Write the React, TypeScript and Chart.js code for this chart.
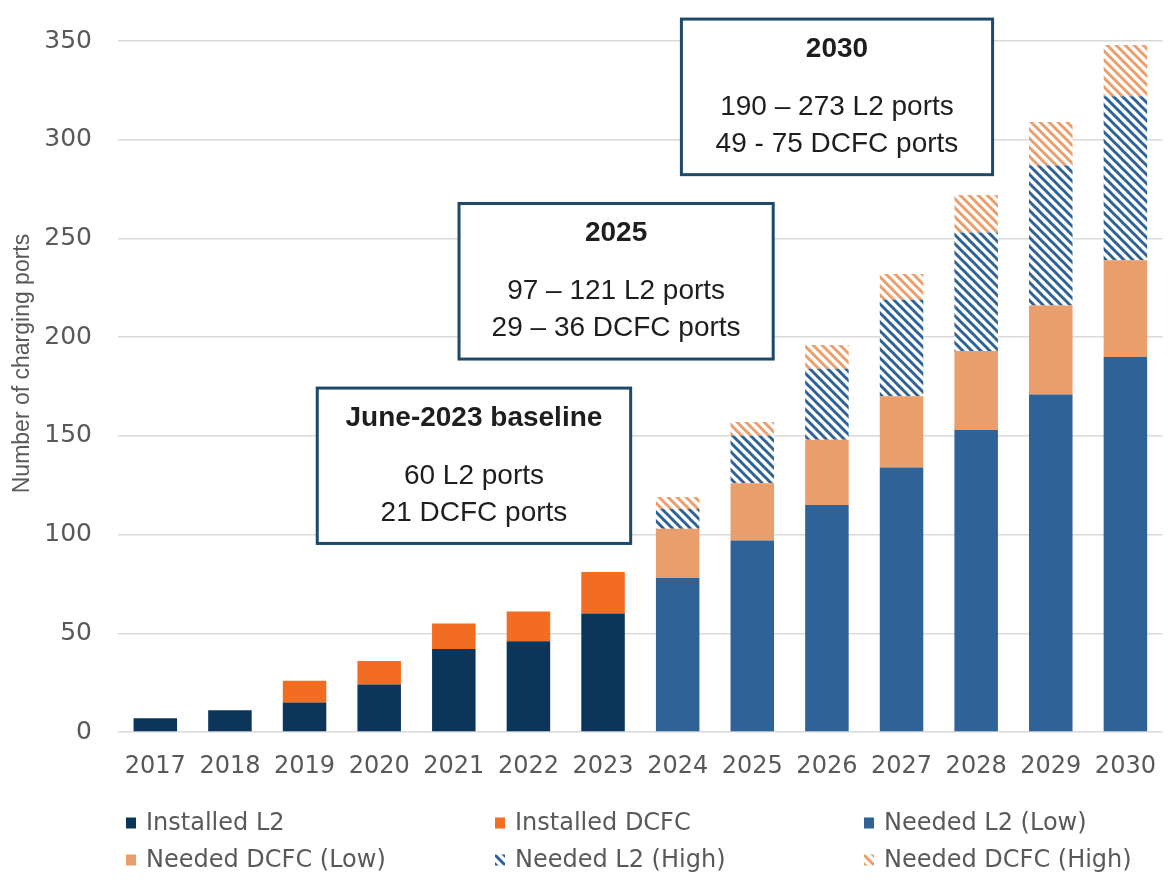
import React, { useEffect, useRef } from 'react';
import { Chart, registerables } from 'chart.js';

Chart.register(...registerables);

// ---------- data ----------
const years = ['2017', '2018', '2019', '2020', '2021', '2022', '2023', '2024', '2025', '2026', '2027', '2028', '2029', '2030'];
const installedL2 = [7, 11, 15, 24, 42, 46, 60, null, null, null, null, null, null, null];
const installedDCFC = [0, 0, 11, 12, 13, 15, 21, null, null, null, null, null, null, null];
const neededL2Low = [null, null, null, null, null, null, null, 78, 97, 115, 134, 153, 171, 190];
const neededDCFCLow = [null, null, null, null, null, null, null, 25, 29, 33, 36, 40, 45, 49];
const neededL2HighExtra = [null, null, null, null, null, null, null, 10, 24, 36, 49, 60, 71, 83];
const neededDCFCHighExtra = [null, null, null, null, null, null, null, 6, 7, 12, 13, 19, 22, 26];
const seriesLabels = ['Installed L2', 'Installed DCFC', 'Needed L2 (Low)', 'Needed DCFC (Low)', 'Needed L2 (High)', 'Needed DCFC (High)'];
const yAxisTitle = 'Number of charging ports';
const yMin = 0;
const yMax = 350;
const yStep = 50;

const calloutTitles = ['June-2023 baseline', '2025', '2030'];
const calloutLines = [
  ['60 L2 ports', '21 DCFC ports'],
  ['97 \u2013 121 L2 ports', '29 \u2013 36 DCFC ports'],
  ['190 \u2013 273 L2 ports', '49 - 75 DCFC ports'],
];

// ---------- layout / style (not data) ----------
// callout boxes in axis units: [x from (category index), x to, y bottom, y top]
const calloutBoxes = [
  [2.17, 6.37, 95.5, 174.2],
  [4.07, 8.28, 188.9, 267.7],
  [7.05, 11.22, 282.3, 361.1],
];

const COLORS = {
  installedL2: '#0C3659',
  installedDCFC: '#F26D21',
  neededL2: '#2F6296',
  neededDCFC: '#EA9E6B',
  grid: '#D9D9D9',
  text: '#595959',
  boxBorder: '#1D4A6A',
  boxText: '#1E1E1E',
};
const TICK_FONT = "'DejaVu Sans', sans-serif";
const ARIAL = "'Liberation Sans', Arial, sans-serif";

function makeHatch(color: string): CanvasPattern | string {
  const s = 9;
  const c = document.createElement('canvas');
  c.width = s;
  c.height = s;
  const g = c.getContext('2d');
  if (!g) return color;
  g.fillStyle = '#ffffff';
  g.fillRect(0, 0, s, s);
  g.strokeStyle = color;
  g.lineWidth = 3;
  g.lineCap = 'square';
  for (let k = -1; k <= 1; k++) {
    g.beginPath();
    g.moveTo(k * s, 0);
    g.lineTo(k * s + s, s);
    g.stroke();
  }
  const ctx = document.createElement('canvas').getContext('2d');
  const p = ctx ? ctx.createPattern(c, 'repeat') : null;
  return p || color;
}

const overlayPlugin = {
  id: 'overlay',
  afterDraw(chart: any) {
    const { ctx } = chart;
    const x = chart.scales.x;
    const y = chart.scales.y;

    // Y axis title
    ctx.save();
    ctx.translate(23, 363.5);
    ctx.rotate(-Math.PI / 2);
    ctx.font = `23px ${ARIAL}`;
    ctx.fillStyle = COLORS.text;
    ctx.textAlign = 'center';
    ctx.textBaseline = 'middle';
    ctx.fillText(yAxisTitle, 0, 0);
    ctx.restore();

    // Callout boxes
    calloutBoxes.forEach((b, i) => {
      const left = x.getPixelForValue(b[0]);
      const right = x.getPixelForValue(b[1]);
      const bottom = y.getPixelForValue(b[2]);
      const top = y.getPixelForValue(b[3]);
      ctx.save();
      ctx.fillStyle = '#ffffff';
      ctx.fillRect(left, top, right - left, bottom - top);
      ctx.strokeStyle = COLORS.boxBorder;
      ctx.lineWidth = 3;
      ctx.strokeRect(left, top, right - left, bottom - top);
      const cx = (left + right) / 2;
      ctx.fillStyle = COLORS.boxText;
      ctx.textAlign = 'center';
      ctx.textBaseline = 'middle';
      ctx.font = `bold 28px ${ARIAL}`;
      ctx.fillText(calloutTitles[i], cx, top + 30);
      ctx.font = `28px ${ARIAL}`;
      ctx.fillText(calloutLines[i][0], cx, top + 88);
      ctx.fillText(calloutLines[i][1], cx, top + 125);
      ctx.restore();
    });

    // Legend (3 columns x 2 rows)
    const cols = [126, 495, 864];
    const rows = [823, 860];
    ctx.save();
    chart.data.datasets.forEach((ds: any, i: number) => {
      const bx = cols[i % 3];
      const cy = rows[Math.floor(i / 3)];
      ctx.fillStyle = ds.backgroundColor;
      ctx.fillRect(bx, cy - 5.5, 10, 11);
      ctx.fillStyle = COLORS.text;
      ctx.font = `24px ${TICK_FONT}`;
      ctx.textAlign = 'left';
      ctx.textBaseline = 'middle';
      ctx.fillText(ds.label, bx + 20, cy + 1);
    });
    ctx.restore();
  },
};

export default function App() {
  const canvasRef = useRef<HTMLCanvasElement | null>(null);

  useEffect(() => {
    const canvas = canvasRef.current;
    if (!canvas) return;
    const hatchL2 = makeHatch(COLORS.neededL2);
    const hatchDCFC = makeHatch(COLORS.neededDCFC);
    const bar = { barPercentage: 0.583, categoryPercentage: 1, stack: 's', borderWidth: 0 };
    const chart = new Chart(canvas, {
      type: 'bar',
      data: {
        labels: years,
        datasets: [
          { ...bar, label: seriesLabels[0], data: installedL2, backgroundColor: COLORS.installedL2 },
          { ...bar, label: seriesLabels[1], data: installedDCFC, backgroundColor: COLORS.installedDCFC },
          { ...bar, label: seriesLabels[2], data: neededL2Low, backgroundColor: COLORS.neededL2 },
          { ...bar, label: seriesLabels[3], data: neededDCFCLow, backgroundColor: COLORS.neededDCFC },
          { ...bar, label: seriesLabels[4], data: neededL2HighExtra, backgroundColor: hatchL2 as any },
          { ...bar, label: seriesLabels[5], data: neededDCFCHighExtra, backgroundColor: hatchDCFC as any },
        ],
      },
      options: {
        responsive: false,
        animation: false,
        devicePixelRatio: 1,
        layout: { padding: { left: 0, right: 1.6, top: 39, bottom: 0 } },
        plugins: {
          legend: { display: false },
          tooltip: { enabled: false },
        },
        scales: {
          x: {
            stacked: true,
            grid: { display: false, drawTicks: false },
            border: { display: false },
            ticks: {
              color: COLORS.text,
              font: { family: TICK_FONT, size: 24 },
              padding: 20,
              maxRotation: 0,
              autoSkip: false,
            },
            afterFit: (s: any) => {
              s.height = 148;
            },
          },
          y: {
            stacked: true,
            min: yMin,
            max: yMax,
            grid: { color: COLORS.grid, lineWidth: 1.5, drawTicks: false },
            border: { display: false },
            ticks: {
              stepSize: yStep,
              color: COLORS.text,
              font: { family: TICK_FONT, size: 25 },
              padding: 26,
            },
            afterFit: (s: any) => {
              s.width = 118;
            },
          },
        },
      },
      plugins: [overlayPlugin],
    });
    return () => chart.destroy();
  }, []);

  return (
    <div style={{ position: 'absolute', left: 0, top: 0, width: 1170, height: 880, overflow: 'hidden', background: '#fff' }}>
      <canvas ref={canvasRef} width={1176} height={880} style={{ display: 'block' }} />
    </div>
  );
}
